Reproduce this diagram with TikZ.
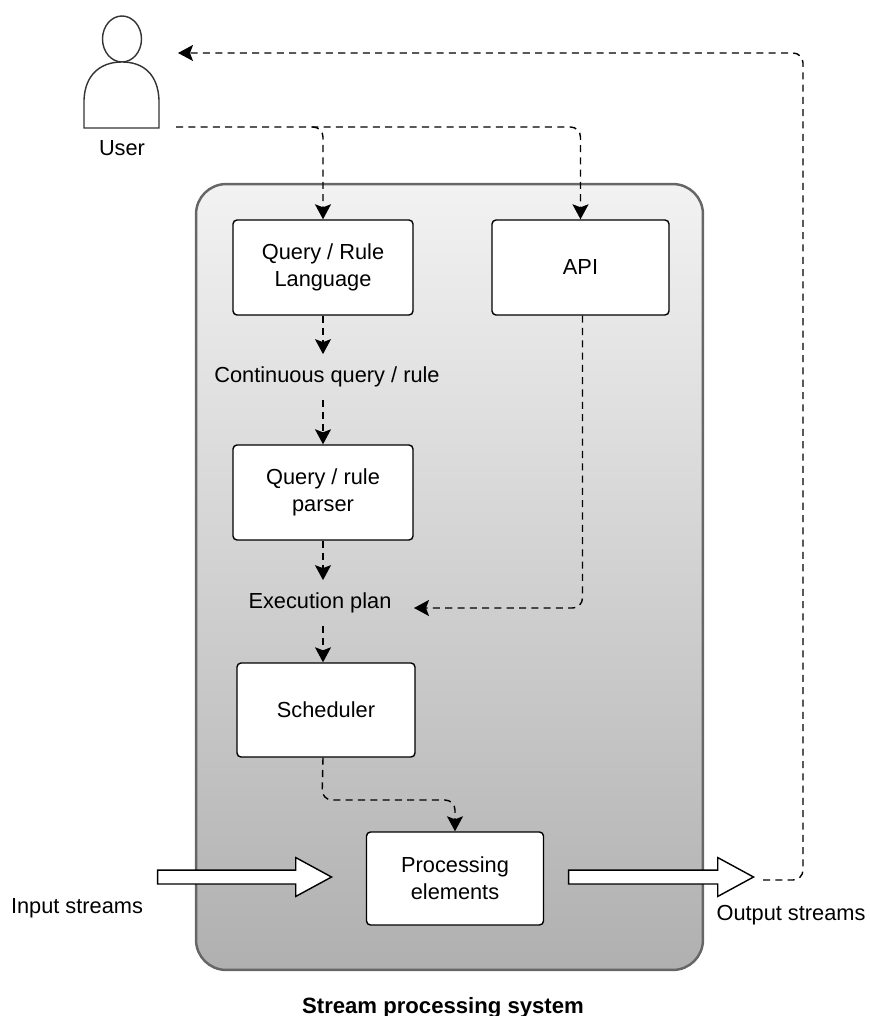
\documentclass[tikz,border=0pt]{standalone}
\usepackage{fontspec}
\setmainfont{Liberation Sans}
\usetikzlibrary{arrows.meta,shapes.arrows}
\tikzset{
	box/.style={draw=black,fill=white,line width=0.8pt,rounded corners=0.08cm,align=center,inner sep=0pt,font=\fontsize{12.4}{15.5}\selectfont},
	caption/.style={inner sep=0pt,align=center,font=\fontsize{12.4}{15.5}\selectfont},
	flow/.style={draw=black,line width=0.8pt,dash pattern=on 4pt off 3pt,rounded corners=0.2cm,-{Stealth[length=0.3cm,width=0.32cm,inset=0.06cm]}},
	stream/.style={draw=black,fill=white,line width=0.8pt,single arrow,single arrow tip angle=57,single arrow head extend=0.25cm,single arrow head indent=0pt,inner sep=0.125cm,anchor=tip},
	person/.style={draw=black!80,line width=0.8pt,fill=white}
}
\begin{document}
\begin{tikzpicture}[x=0.02cm,y=-0.02cm]
	\useasboundingbox (0,0) rectangle (869,1016);
	% the system
	\node[draw=black!60,line width=1.4pt,rounded corners=0.6cm,top color=black!5,bottom color=black!31,minimum width=10.14cm,minimum height=15.72cm] (system) at (449.5,577) {};
	\node[caption,font=\fontsize{12.6}{12}\selectfont\bfseries] (systemname) at (443,1008) {Stream processing system};
	% the user
	\draw[person] (122,39) ellipse (19.5 and 23);
	\draw[person] (84,128) -- (84,100) .. controls (85,75) and (100,62) .. (122,62) .. controls (144,62) and (158,75) .. (159,100) -- (159,128) -- cycle;
	\node[caption] (user) at (122,148) {User};
	\coordinate (userout) at (176,127);
	\coordinate (userbranch) at (312,127);
	\coordinate (userin) at (178,53);
	% the boxes
	\node[box,minimum width=3.6cm,minimum height=1.9cm] (language) at (323,267.5) {Query / Rule\\Language};
	\node[box,minimum width=3.54cm,minimum height=1.9cm] (api) at (580.5,267.5) {API};
	\node[box,minimum width=3.6cm,minimum height=1.9cm] (parser) at (323,492.5) {Query / rule\\parser};
	\node[box,minimum width=3.56cm,minimum height=1.88cm] (scheduler) at (326,710) {Scheduler};
	\node[box,minimum width=3.54cm,minimum height=1.86cm] (elements) at (455,878.5) {Processing\\elements};
	% the labels between boxes
	\node[caption,minimum height=0.9cm] (rule) at (327,377) {Continuous query / rule};
	\node[caption,minimum height=0.9cm] (plan) at (320,603) {Execution plan};
	% the streams
	\node[stream,minimum height=3.48cm] (input) at (333,877) {};
	\node[stream,minimum height=3.7cm] (output) at (755,877) {};
	\node[caption] (inputname) at (77,908) {Input streams};
	\node[caption] (outputname) at (791,915) {Output streams};
	\coordinate (outputend) at (763,880);
	\coordinate (planend) at (414,608);
	% the dashed flows
	\draw[flow] (userout) -| (api.north);
	\draw[flow] (userbranch) -| (language.north);
	\draw[flow] (language.south) -- (language.south |- rule.north);
	\draw[flow] (language.south |- rule.south) -- (parser.north);
	\draw[flow] (parser.south) -- (parser.south |- plan.north);
	\draw[flow] (parser.south |- plan.south) -- (parser.south |- scheduler.north);
	\draw[flow] ([xshift=0.04cm]api.south) |- (planend);
	\draw[flow] (parser.south |- scheduler.south) -- (322,800) -| (elements.north);
	\draw[flow] (outputend) -| (803,53) -- (userin);
\end{tikzpicture}
\end{document}
